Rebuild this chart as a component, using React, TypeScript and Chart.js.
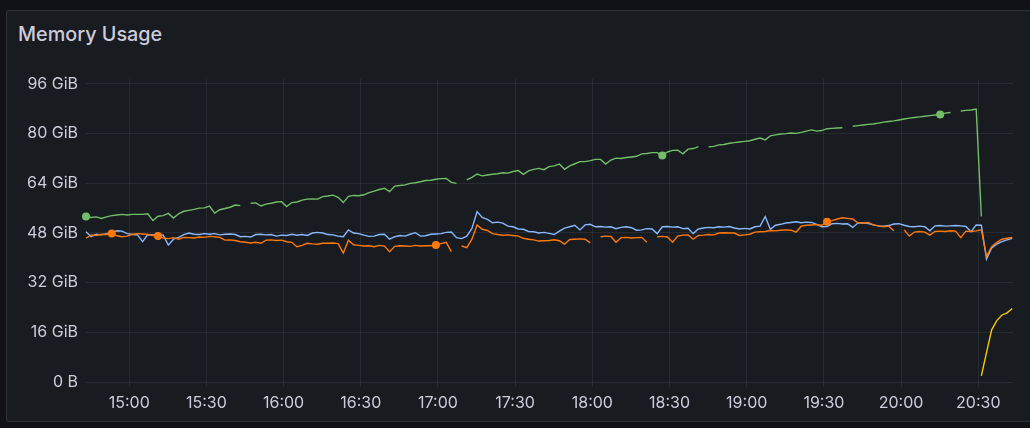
import { useEffect, useRef } from "react";
import { Chart, registerables } from "chart.js";

Chart.register(...registerables);

// ---- time axis (minutes since midnight) ----
const START_MINUTE = 883.2; // first sample, ~14:43
const STEP_MINUTES = 2;
const X_MIN = 883.2;
const X_MAX = 1243.5;
const xTickMinutes = [900, 930, 960, 990, 1020, 1050, 1080, 1110, 1140, 1170, 1200, 1230];
const yTickValues = [0, 16, 32, 48, 64, 80, 96];

const TITLE = "Memory Usage";

// ---- series values (GiB) ----
const greenValues = [
  53.3, 53.0, 53.2, 52.7, 53.2, 53.6, 53.8, 54.0, 53.8, 54.0,
  54.0, 54.0, 54.2, 52.0, 53.4, 53.6, 54.3, 52.8, 54.2, 55.0,
  55.3, 55.6, 56.0, 56.1, 56.7, 54.4, 55.5, 55.9, 56.3, 57.0,
  56.8, null, 57.6, 57.7, 56.7, 57.3, 57.6, 58.0, 58.1, 56.5,
  57.8, 58.0, 58.6, 58.9, 59.0, 58.9, 59.7, 59.9, 60.2, 59.5,
  57.8, 59.8, 60.1, 60.0, 60.3, 61.0, 61.5, 62.0, 62.4, 61.3,
  63.1, 63.3, 63.5, 64.0, 64.2, 64.5, 64.9, 65.0, 65.3, 65.5,
  65.6, 64.3, 64.0, null, 65.1, 65.9, 67.0, 66.4, 66.7, 66.9,
  67.1, 67.4, 67.3, 67.8, 68.1, 66.9, 68.0, 68.5, 68.8, 68.4,
  69.4, 69.6, 70.2, 68.5, 69.6, 70.3, 71.0, 71.0, 71.3, 71.7,
  71.7, 70.2, 71.5, 72.1, 72.0, 72.3, 72.5, 72.7, 73.5, 73.6,
  73.9, 73.9, 73.0, 74.1, 74.6, 74.7, 73.5, 75.0, 75.2, 75.8,
  null, 75.8, 75.9, 76.4, 76.5, 76.9, 77.1, 77.3, 77.5, 77.7,
  78.2, 78.6, 78.0, 79.3, 79.6, 79.9, 80.0, 80.2, 80.1, 80.4,
  80.8, 81.2, 80.8, 81.0, 81.6, 81.7, 81.8, 81.9, null, 82.4,
  82.6, 82.8, 83.0, 83.1, 83.4, 83.7, 83.9, 84.1, 84.4, 84.7,
  85.0, 85.2, 85.4, 85.6, 85.8, 86.0, 86.2, 86.6, 86.8, null,
  87.3, 87.5, 87.6, 87.9, 53.3,
];

const blueValues = [
  48.4, 46.8, 47.6, 47.4, 47.8, 48.1, 48.7, 48.6, 47.8, 47.5,
  47.4, 45.2, 47.5, 47.4, 47.6, 47.3, 44.1, 46.0, 46.6, 47.5,
  48.0, 47.6, 47.5, 47.8, 47.6, 47.8, 47.4, 47.6, 47.7, 47.5,
  46.8, 46.9, 46.7, 47.5, 47.6, 47.4, 47.5, 47.0, 47.3, 47.2,
  47.6, 47.3, 47.5, 47.2, 48.0, 48.2, 48.0, 47.5, 47.4, 47.0,
  46.8, 49.0, 48.0, 47.8, 47.3, 46.9, 47.0, 47.5, 47.6, 46.0,
  46.8, 47.2, 47.0, 47.6, 48.1, 47.0, 47.1, 47.6, 47.7, 47.8,
  48.2, 48.3, 46.5, 46.2, 47.0, 49.5, 54.9, 53.0, 52.4, 51.3,
  51.5, 51.2, 50.2, 50.0, 49.3, 49.2, 48.5, 48.4, 48.0, 48.2,
  47.9, 47.5, 48.6, 49.6, 50.0, 50.5, 49.0, 50.6, 50.8, 50.0,
  50.1, 49.9, 50.0, 49.4, 49.8, 50.0, 49.7, 48.9, 49.0, 49.4,
  49.3, 47.8, 50.0, 50.1, 49.9, 50.0, 49.4, 49.5, 47.8, 49.3,
  49.6, 49.8, 49.7, 50.0, 49.9, 50.1, 49.6, 49.3, 49.5, 49.3,
  50.0, 50.2, 53.3, 49.2, 50.5, 50.8, 51.2, 51.4, 51.6, 51.3,
  51.5, 51.4, 50.8, 50.0, 50.1, 51.0, 51.1, 50.9, 51.0, 49.8,
  51.2, 51.3, 51.0, 50.6, 50.3, 50.2, 50.4, 50.9, 51.0, 50.5,
  50.1, 50.0, 50.2, 50.0, 48.7, 50.3, 50.4, 50.2, 50.3, 50.4,
  50.3, 50.1, 48.4, 50.6, 50.5, 39.6, 43.2, 44.4, 45.2, 45.8,
  46.3,
];

const orangeValues = [
  46.3, 47.4, 47.2, 47.6, 47.5, 47.8, 47.1, 46.8, 47.0, 47.6,
  47.8, 47.7, 47.5, 47.2, 47.0, 46.4, 46.2, 46.5, 46.0, 46.6,
  46.5, 46.4, 46.7, 46.6, 46.9, 46.8, 46.6, 45.7, 45.8, 45.6,
  45.2, 45.0, 44.8, 45.0, 44.7, 45.7, 45.8, 45.6, 45.7, 45.2,
  45.0, 43.6, 44.0, 44.7, 44.5, 44.4, 44.7, 44.7, 44.8, 44.6,
  41.5, 45.7, 44.2, 44.0, 43.8, 43.9, 43.6, 44.0, 43.8, 42.0,
  43.7, 43.9, 43.8, 43.7, 44.0, 43.8, 43.9, 43.9, 44.1, 44.6,
  45.0, 42.0, null, 43.8, 43.3, 46.0, 50.6, 49.2, 48.8, 47.8,
  47.5, 47.3, 47.4, 47.2, 47.0, 46.3, 46.0, 45.8, 45.4, 45.5,
  45.6, 45.8, 45.5, 44.4, 45.9, 46.0, 46.1, 46.0, 44.8, null,
  46.8, 47.0, 46.9, 45.0, 46.5, 46.6, 46.4, 46.5, 46.6, 45.0,
  null, 46.8, 46.9, 46.7, 45.0, 47.0, 47.3, 47.4, 46.0, 47.2,
  47.3, 47.5, 47.4, 48.0, 48.1, 48.0, 48.0, 47.2, 47.4, 47.6,
  48.3, 48.4, 48.5, 48.8, 48.7, 48.9, 49.0, 48.9, 48.3, 50.2,
  50.5, 50.6, 50.7, 50.5, 51.6, 52.0, 52.5, 52.9, 52.7, 52.5,
  51.3, 51.2, 51.4, 50.6, 50.3, 50.0, 50.2, 48.7, null, 49.0,
  47.0, 48.3, 48.5, 48.3, 47.3, 48.5, 48.6, 48.5, 48.7, 48.6,
  46.5, 48.6, 48.5, 48.7, 49.0, 40.5, 43.6, 45.0, 46.0, 46.3,
  46.6,
];

const YELLOW_START_INDEX = 174;
const yellowValues = [2.0, 9.5, 16.8, 19.8, 21.6, 22.3, 23.7];

// sample indices that Grafana shows as isolated points
const greenDots = [0, 112, 166];
const orangeDots = [5, 14, 68, 144];

const COLORS = {
  green: "#73BF69",
  yellow: "#F2CC0C",
  blue: "#8AB8FF",
  orange: "#FF780A",
};

const timeAt = (i: number) => START_MINUTE + STEP_MINUTES * i;
const toPoints = (vals: (number | null)[], offset = 0) =>
  vals.map((v, i) => ({ x: timeAt(i + offset), y: v }));

const fmtTime = (m: number) => {
  const h = Math.floor(m / 60);
  const mm = Math.round(m - h * 60);
  return `${h}:${String(mm).padStart(2, "0")}`;
};

const TEXT = "rgb(204, 204, 220)";
const GRID = "rgba(204, 204, 220, 0.09)";

export default function App() {
  const ref = useRef<HTMLCanvasElement | null>(null);

  useEffect(() => {
    if (!ref.current) return;
    const mkLine = (label: string, color: string, data: any[], dots: number[]) => ({
      label,
      data,
      borderColor: color,
      backgroundColor: color,
      borderWidth: 1.4,
      tension: 0,
      spanGaps: false,
      clip: 6,
      pointRadius: (ctx: any) => (dots.includes(ctx.dataIndex) ? 4 : 0),
      pointHoverRadius: 0,
      pointBorderWidth: 0,
      pointBackgroundColor: color,
      fill: false,
    });

    const chart = new Chart(ref.current, {
      type: "line",
      data: {
        datasets: [
          mkLine("green", COLORS.green, toPoints(greenValues), greenDots),
          mkLine("yellow", COLORS.yellow, toPoints(yellowValues, YELLOW_START_INDEX), []),
          mkLine("orange", COLORS.orange, toPoints(orangeValues), orangeDots),
          mkLine("blue", COLORS.blue, toPoints(blueValues), []),
        ] as any,
      },
      options: {
        responsive: false,
        animation: false,
        maintainAspectRatio: false,
        layout: { padding: { left: 16, right: 17, top: 79, bottom: 11 } },
        plugins: {
          legend: { display: false },
          tooltip: { enabled: false },
          title: { display: false },
        },
        scales: {
          x: {
            type: "linear",
            min: X_MIN,
            max: X_MAX,
            afterBuildTicks: (scale: any) => {
              scale.ticks = xTickMinutes.map((v) => ({ value: v }));
            },
            afterFit: (scale: any) => {
              scale.height = 30;
            },
            grid: { color: GRID, drawTicks: false, lineWidth: 1 },
            border: { display: false },
            ticks: {
              autoSkip: false,
              maxRotation: 0,
              padding: 7,
              color: TEXT,
              font: { family: "Inter", size: 16 },
              callback: (v: any) => fmtTime(Number(v)),
            },
          },
          y: {
            type: "linear",
            min: -1.6,
            max: 97.6,
            afterBuildTicks: (scale: any) => {
              scale.ticks = yTickValues.map((v) => ({ value: v }));
            },
            afterFit: (scale: any) => {
              scale.width = 70;
            },
            grid: { color: GRID, drawTicks: false, lineWidth: 1 },
            border: { display: false },
            ticks: {
              padding: 8,
              color: TEXT,
              font: { family: "Inter", size: 16 },
              callback: (v: any) => (Number(v) === 0 ? "0 B" : `${v} GiB`),
            },
          },
        },
      } as any,
    });
    return () => chart.destroy();
  }, []);

  return (
    <div
      style={{
        position: "fixed",
        inset: 0,
        background: "#111217",
        overflow: "hidden",
      }}
    >
      <div
        style={{
          position: "absolute",
          left: 6,
          top: 10,
          width: 1040,
          height: 412,
          boxSizing: "border-box",
          background: "#181b1f",
          border: "1px solid rgba(204, 204, 220, 0.12)",
          borderRadius: 3,
        }}
      />
      <div
        style={{
          position: "absolute",
          left: 18,
          top: 25,
          fontFamily: "Inter",
          fontWeight: 500,
          fontSize: 19.8,
          lineHeight: "19.8px",
          color: TEXT,
          whiteSpace: "nowrap",
        }}
      >
        {TITLE}
      </div>
      <canvas
        ref={ref}
        width={1030}
        height={428}
        style={{ position: "absolute", left: 0, top: 0, width: 1030, height: 428 }}
      />
    </div>
  );
}
